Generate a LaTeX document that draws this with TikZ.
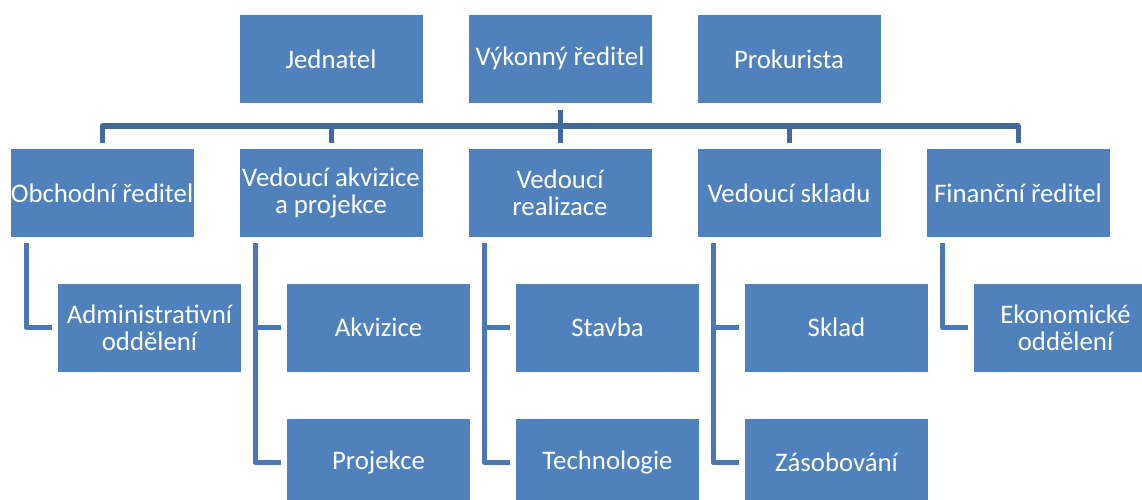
\documentclass[tikz,border=0pt]{standalone}
\usepackage{fontspec}
\setmainfont{Carlito}
\usepackage{tikz}
\usetikzlibrary{positioning}
\definecolor{boxblue}{RGB}{79,129,189}
\definecolor{busblue}{RGB}{65,105,156}
\definecolor{linkblue}{RGB}{74,120,180}

\tikzset{
  unit/.style={fill=boxblue, draw=white, line width=0.8pt, text=white,
    minimum width=184pt, minimum height=89pt, inner sep=0pt,
    align=center, font=\fontsize{26.8}{27}\selectfont},
  bus/.style={draw=busblue, line width=5pt, line join=round},
  link/.style={draw=linkblue, line width=5pt, line join=round,
    shorten <=5.5pt, shorten >=5.5pt},
}

\begin{document}
\begin{tikzpicture}[x=1pt, y=-1pt]
\useasboundingbox (0,0) rectangle (1142,500);
% top row
\node[unit] (jed) at (331,58.8) {Jednatel};
\node[unit] (vr) at (560,58.8) {Výkonný ředitel};
\node[unit] (pro) at (789,58.8) {Prokurista};
% second row
\node[unit] (or) at (102,193) {Obchodní ředitel};
\node[unit] (va) at (331,193) {Vedoucí akvizice\\a projekce};
\node[unit] (vre) at (560,193) {Vedoucí\\realizace};
\node[unit] (vs) at (789,193) {Vedoucí skladu};
\node[unit] (fr) at (1018,193) {Finanční ředitel};
% departments
\node[unit] (ado) at (149.5,327.5) {Administrativní\\oddělení};
\node[unit] (akv) at (378.5,327.5) {Akvizice};
\node[unit] (prj) at (378.5,462.5) {Projekce};
\node[unit] (sta) at (607.5,327.5) {Stavba};
\node[unit] (tec) at (607.5,462.5) {Technologie};
\node[unit] (skl) at (836.5,327.5) {Sklad};
\node[unit] (zas) at (836.5,462.5) {Zásobování};
\node[unit] (eko) at (1065.5,327.5) {Ekonomické\\oddělení};
\coordinate (hub) at (560,126);

% bus to the second row
\draw[bus, shorten <=6pt] (vr.south) -- (vr.south |- hub);
\draw[bus, shorten <=5pt, shorten >=5pt] (or.north) -- (or.north |- hub)
  -- (fr.north |- hub) -- (fr.north);
\foreach \n in {va,vre,vs}
  \draw[bus, shorten >=5pt] (\n.north |- hub) -- (\n.north);

% links to the departments
\foreach \p/\c in {or/ado,va/prj,vre/tec,vs/zas,fr/eko}
  \draw[link] ([xshift=16.5pt]\p.south west)
    -- ([xshift=16.5pt]\p.south west |- \c.west) -- (\c.west);
\foreach \p/\c in {va/akv,vre/sta,vs/skl}
  \draw[link, shorten <=0pt] ([xshift=16.5pt]\p.south west |- \c.west) -- (\c.west);
\end{tikzpicture}
\end{document}
